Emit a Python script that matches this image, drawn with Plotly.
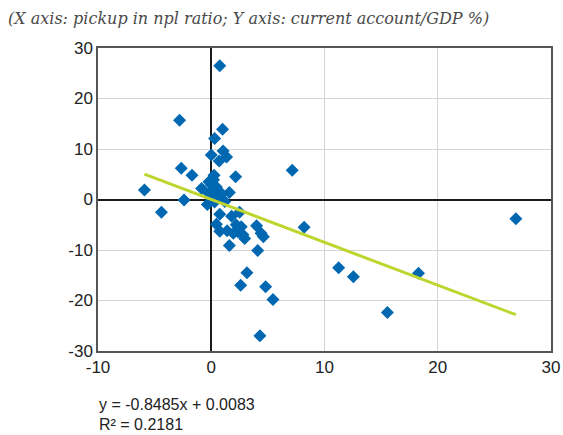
import plotly.graph_objects as go

npl_pickup = [0.75, -2.8, 1.0, 0.3, 0.0, 1.05, 1.35, 0.7, 7.15, -2.65,
              -1.7, 2.15, 0.25, 0.2, -0.2, 0.0, 0.45, -0.85, -5.9, 1.6,
              0.2, 0.9, -0.2, 1.2, -2.4, -0.35, -4.4, 0.75, 1.8, 2.5,
              0.45, 0.75, 1.4, 2.2, 2.65, 2.35, 2.8, 1.95, 2.95, 4.0,
              4.4, 4.6, 8.2, 1.6, 4.1, 3.15, 2.6, 4.8, 5.45, 4.3,
              26.9, 11.25, 12.55, 18.3, 15.55, 0.5, 0.3]
ca_gdp = [26.5, 15.7, 13.9, 12.1, 8.8, 9.6, 8.4, 7.6, 5.8, 6.2,
          4.8, 4.5, 4.8, 3.9, 3.5, 2.9, 2.5, 2.2, 1.9, 1.4,
          1.2, 1.2, 1.2, -0.4, -0.1, -1.0, -2.5, -2.9, -3.3, -2.5,
          -4.9, -6.3, -6.2, -5.0, -5.4, -6.4, -7.0, -6.7, -7.7, -5.2,
          -6.7, -7.4, -5.5, -9.1, -10.1, -14.5, -17.0, -17.3, -19.8, -27.0,
          -3.8, -13.5, -15.3, -14.6, -22.4, 0.3, -0.5]

slope = -0.8485
intercept = 0.0083
r_squared = 0.2181

x_ticks = [-10, 0, 10, 20, 30]
y_ticks = [-30, -20, -10, 0, 10, 20, 30]

title_text = "(X axis: pickup in npl ratio; Y axis: current account/GDP %)"

x_line = [min(npl_pickup), max(npl_pickup)]
y_line = [slope * v + intercept for v in x_line]

fig = go.Figure()
fig.add_trace(go.Scatter(
    x=npl_pickup, y=ca_gdp, mode="markers",
    marker=dict(symbol="diamond", size=10, color="#0067B1", line=dict(width=0)),
    showlegend=False, hoverinfo="skip"))
fig.add_trace(go.Scatter(
    x=x_line, y=y_line, mode="lines",
    line=dict(color="#BFD52F", width=3),
    showlegend=False, hoverinfo="skip"))

axis_common = dict(
    showgrid=True, gridcolor="#D3D3D3", gridwidth=1,
    zeroline=True, zerolinecolor="#1a1a1a", zerolinewidth=1.5,
    showline=True, linecolor="#555555", linewidth=1.5, mirror=True,
    automargin=False,
    ticks="", tickfont=dict(family="Liberation Sans, Arial", size=17, color="#222222"),
)
fig.update_xaxes(range=[-10, 30], tickvals=x_ticks, ticktext=[str(v) for v in x_ticks],
                 **axis_common)
fig.update_yaxes(range=[-30, 30], tickvals=y_ticks, ticktext=[str(v) for v in y_ticks],
                 **axis_common)

fig.add_annotation(text=title_text, xref="paper", yref="paper",
                   x=-0.203, y=1.099, xanchor="left", yanchor="middle", showarrow=False,
                   font=dict(family="DejaVu Serif, Liberation Serif, serif", size=16,
                             color="#4a4a4a", style="italic"))
fig.add_annotation(text=f"y = {slope}x + {intercept}", xref="paper", yref="paper",
                   x=-0.002, y=-0.178, xanchor="left", yanchor="middle", showarrow=False,
                   font=dict(family="Liberation Sans, Arial", size=16, color="#222222"))
fig.add_annotation(text=f"R² = {r_squared}", xref="paper", yref="paper",
                   x=-0.002, y=-0.241, xanchor="left", yanchor="middle", showarrow=False,
                   font=dict(family="Liberation Sans, Arial", size=16, color="#222222"))

fig.update_layout(
    width=563, height=435, autosize=False,
    margin=dict(l=98, r=11.5, t=48, b=84),
    paper_bgcolor="white", plot_bgcolor="white",
)

fig.write_html("out.html",
               config={"displayModeBar": False, "responsive": False},
               post_script="document.body.style.margin='0';document.body.style.padding='0';document.body.style.overflow='hidden';")
